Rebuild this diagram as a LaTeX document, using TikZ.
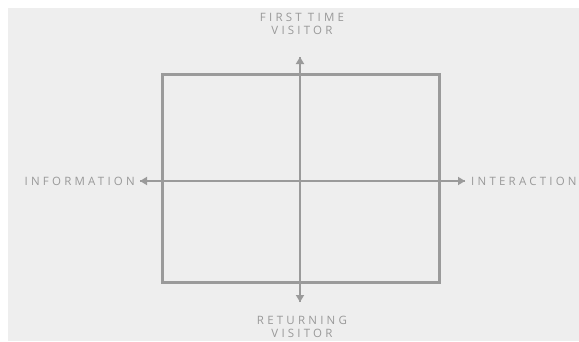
\documentclass[tikz,border=0pt]{standalone}
\usepackage{fontspec}
\setmainfont{Open Sans}[LetterSpace=28]
\usetikzlibrary{arrows.meta}
\definecolor{bggray}{HTML}{EEEEEE}
\definecolor{linegray}{HTML}{9A9A9A}
\definecolor{textgray}{HTML}{999999}
\tikzset{
  axis/.style={draw=linegray, line width=2pt, -{Triangle[width=8pt,length=7pt]}},
  lbl/.style={text=textgray, font=\fontsize{11.5}{13}\selectfont, inner sep=0pt, align=center},
}
\begin{document}
\begin{tikzpicture}[x=1pt,y=1pt]
\useasboundingbox (0,0) rectangle (579,341);
\fill[bggray] (8,0) rectangle (579,333);
\draw[linegray, line width=3pt] (162.5,58.5) rectangle (439.5,266.5);
\coordinate (c) at (300,160);
\coordinate (top) at (300,284);
\coordinate (bot) at (300,39);
\coordinate (lft) at (140,160);
\coordinate (rgt) at (465,160);
\draw[axis] (bot) -- (top);
\draw[axis] (top) -- (bot);
\draw[axis] (rgt) -- (lft);
\draw[axis] (lft) -- (rgt);
\node[lbl] (ft) at (302,317.5) {FIRST TIME\\VISITOR};
\node[lbl] (rv) at (302,14.5) {RETURNING\\VISITOR};
\node[lbl, anchor=east] (info) at (135,160) {INFORMATION};
\node[lbl, anchor=west] (inter) at (471,160) {INTERACTION};
\end{tikzpicture}
\end{document}
